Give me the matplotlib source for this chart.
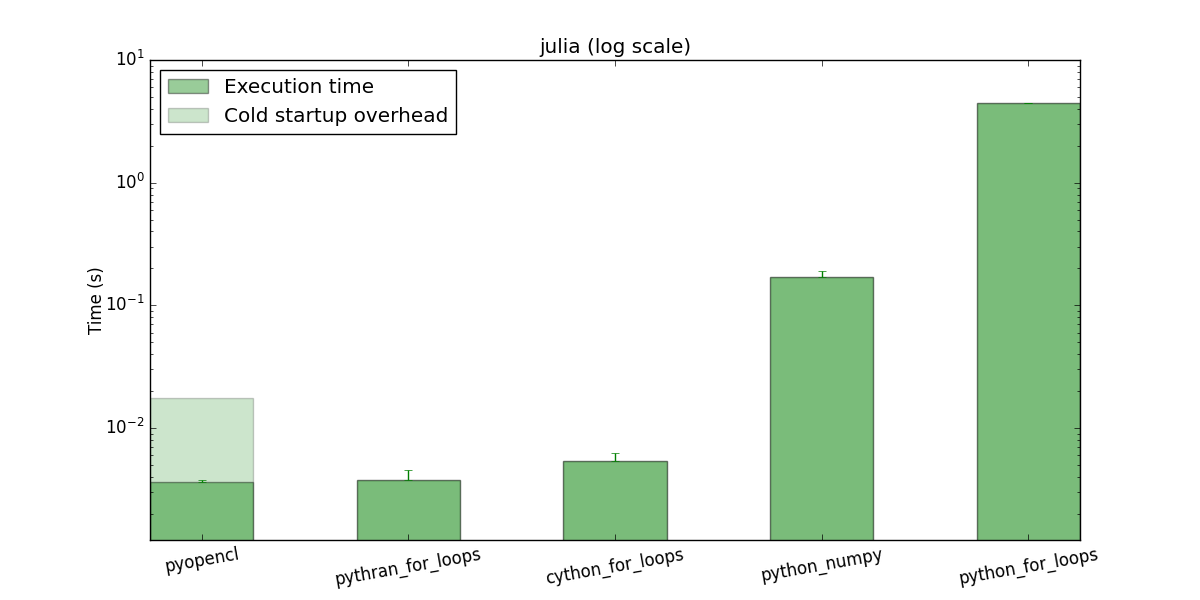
import matplotlib
matplotlib.use("Agg")
import matplotlib.pyplot as plt
import numpy as np

plt.style.use('classic')

categories = ["pyopencl", "pythran_for_loops", "cython_for_loops", "python_numpy", "python_for_loops"]
exec_time = [0.00363, 0.00377, 0.00539, 0.169, 4.47]
exec_err_up = [0.0001, 0.00078, 0.00086, 0.020, 0.01]
total_cold = [0.0176, 0.00377, 0.00539, 0.169, 4.47]

fig = plt.figure(figsize=(12, 6), dpi=100)
ax = fig.add_subplot(111)
x = np.arange(len(categories))
width = 0.5

ax.bar(x, total_cold, width, color='green', alpha=0.2, align='center',
       label='Cold startup overhead', log=True)
ax.bar(x, exec_time, width, color='green', alpha=0.4, align='center',
       label='Execution time', log=True)
ax.errorbar(x, exec_time, yerr=[np.zeros(len(x)), exec_err_up], fmt='none',
            ecolor='green', capsize=3)

ax.set_yscale('log')
ax.set_ylim(0.00122, 10)
ax.set_xlim(-0.25, 4.25)
ax.set_xticks(x)
ax.set_xticklabels(categories, rotation=10)
ax.set_ylabel('Time (s)', labelpad=-1)
ax.set_title('julia (log scale)')

handles, labels = ax.get_legend_handles_labels()
ax.legend(handles[::-1], labels[::-1], loc='upper left')

fig.savefig('out.png', dpi=100)
